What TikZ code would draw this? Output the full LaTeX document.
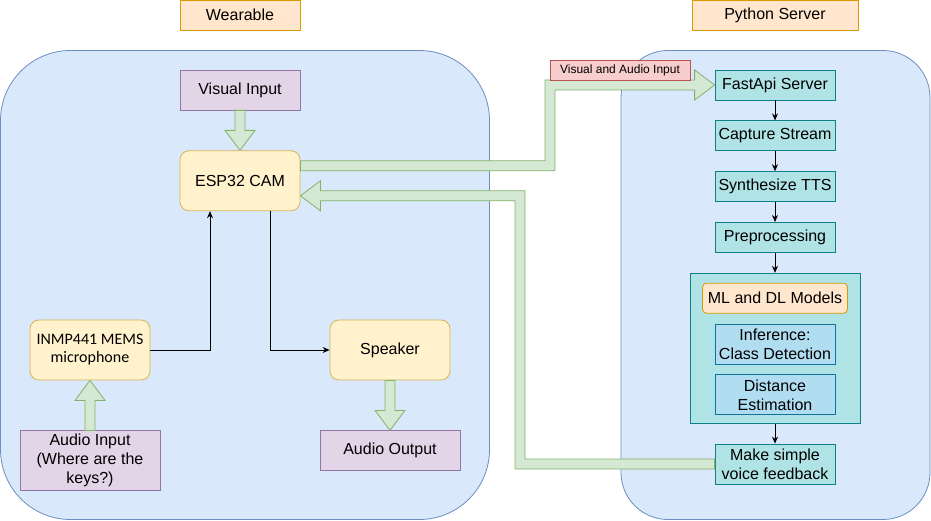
\documentclass[tikz,border=0pt]{standalone}
\usepackage{fontspec}
\setmainfont{Liberation Sans}
\newfontfamily\micfont{Carlito}
\usetikzlibrary{positioning,calc,arrows.meta}

\definecolor{bluefill}{HTML}{DAE8FC}
\definecolor{blueline}{HTML}{6C8EBF}
\definecolor{peachfill}{HTML}{FFE6CC}
\definecolor{peachline}{HTML}{D79B00}
\definecolor{purplefill}{HTML}{E1D5E7}
\definecolor{purpleline}{HTML}{9673A6}
\definecolor{yellowfill}{HTML}{FFF2CC}
\definecolor{yellowline}{HTML}{D6B656}
\definecolor{greenfill}{HTML}{D5E8D4}
\definecolor{greenline}{HTML}{82B366}
\definecolor{redfill}{HTML}{F8CECC}
\definecolor{redline}{HTML}{B85450}
\definecolor{tealfill}{HTML}{B0E3E6}
\definecolor{tealline}{HTML}{0E8088}
\definecolor{skyfill}{HTML}{B1DDF0}
\definecolor{skyline}{HTML}{10739E}

\begin{document}
\begin{tikzpicture}
  [x=1pt, y=-1pt, node distance=20pt, font=\fontsize{16}{19}\selectfont,
   box/.style={draw, line width=0.8pt, minimum width=120pt, minimum height=30pt, inner sep=1pt, align=center},
   title/.style={box, fill=peachfill, draw=peachline},
   container/.style={draw=blueline, fill=bluefill, line width=0.8pt},
   signal/.style={box, fill=purplefill, draw=purpleline, minimum width=140pt, minimum height=40pt},
   device/.style={box, fill=yellowfill, draw=yellowline, minimum height=60pt, rounded corners=9pt},
   stage/.style={box, fill=tealfill, draw=tealline},
   model/.style={box, fill=skyfill, draw=skyline, minimum height=40pt},
   flow/.style={draw=greenline, fill=greenfill, line width=0.8pt, line join=miter},
   link/.style={-{Stealth[length=7pt,width=6pt]}, line width=0.8pt}]
	\useasboundingbox (0,0) rectangle (931,521);

	\node [container, minimum width=489pt, minimum height=469pt, rounded corners=70pt] (wearbox) at (245,285) {};
	\node [container, minimum width=309pt, minimum height=469pt, rounded corners=47pt] (pybox) at (775.5,285) {};

	\node [title] (wear) at (240,15) {Wearable};
	\node [title, minimum width=166pt] (py) at (775,15) {Python Server};

	\node [signal, minimum width=120pt] (vis) at (240,90) {Visual Input};
	\node [device, below=40pt of vis] (esp) {ESP32 CAM};
	\node [device, font=\micfont\fontsize{16}{18}\selectfont] (mic) at (90,350) {INMP441 MEMS\\microphone};
	\node [signal, minimum height=60pt, below=50pt of mic] (ain) {Audio Input\\(Where are the\\keys?)};
	\node [device] (spk) at (390,350) {Speaker};
	\node [signal, below=50pt of spk] (aout) {Audio Output};

	\node [stage] (fast) at (775,85) {FastApi Server};
	\node [stage, below=of fast] (cap) {Capture Stream};
	\node [stage, below=of cap] (tts) {Synthesize TTS};
	\node [stage, below=of tts] (pre) {Preprocessing};
	\node [stage, minimum width=170pt, minimum height=150pt, below=of pre] (models) {};
	\node [box, fill=peachfill, draw=peachline, rounded corners=4pt, minimum width=145pt, below=10pt of models.north] (ml) {ML and DL Models};
	\node [model, below=10pt of ml] (inf) {Inference:\\Class Detection};
	\node [model, below=10pt of inf] (dist) {Distance\\Estimation};
	\node [stage, minimum height=40pt, below=of models] (fb) {Make simple\\voice feedback};

	\coordinate (upX) at (550,0);
	\coordinate (downX) at (520,0);

	\draw [flow] ($(vis.south)+(-5,0)$) -- ($(vis.south)+(5,0)$) -- ($(esp.north)+(5,-20)$) -- ($(esp.north)+(15,-20)$)
		-- (esp.north) -- ($(esp.north)+(-15,-20)$) -- ($(esp.north)+(-5,-20)$) -- cycle;
	\draw [flow] ($(ain.north)+(-5,0)$) -- ($(ain.north)+(5,0)$) -- ($(mic.south)+(5,20)$) -- ($(mic.south)+(15,20)$)
		-- (mic.south) -- ($(mic.south)+(-15,20)$) -- ($(mic.south)+(-5,20)$) -- cycle;
	\draw [flow] ($(spk.south)+(-5,0)$) -- ($(spk.south)+(5,0)$) -- ($(aout.north)+(5,-20)$) -- ($(aout.north)+(15,-20)$)
		-- (aout.north) -- ($(aout.north)+(-15,-20)$) -- ($(aout.north)+(-5,-20)$) -- cycle;

	\draw [flow] ($(esp.east)+(0,-20)$) -- ($(upX |- esp.east)+(-5,-20)$) -- ($(upX |- fast.west)+(-5,-5)$)
		-- ($(fast.west)+(-20,-5)$) -- ($(fast.west)+(-20,-15)$) -- (fast.west) -- ($(fast.west)+(-20,15)$)
		-- ($(fast.west)+(-20,5)$) -- ($(upX |- fast.west)+(5,5)$) -- ($(upX |- esp.east)+(5,-10)$)
		-- ($(esp.east)+(0,-10)$) -- cycle;
	\draw [flow] ($(fb.west)+(0,-5)$) -- ($(downX |- fb.west)+(5,-5)$) -- ($(downX |- esp.east)+(5,10)$)
		-- ($(esp.east)+(20,10)$) -- ($(esp.east)+(20,0)$) -- ($(esp.east)+(0,15)$) -- ($(esp.east)+(20,30)$)
		-- ($(esp.east)+(20,20)$) -- ($(downX |- esp.east)+(-5,20)$) -- ($(downX |- fb.west)+(-5,5)$)
		-- ($(fb.west)+(0,5)$) -- cycle;

	\node [box, fill=redfill, draw=redline, minimum width=140pt, minimum height=20pt, inner sep=1pt,
		font=\fontsize{12}{13}\selectfont] (tag) at (620,70) {Visual and Audio Input};

	\draw [link] (mic.east) -| ($(esp.south)+(-30,0)$);
	\draw [link] ($(esp.south)+(30,0)$) |- (spk.west);
	\draw [link] (fast) -- (cap);
	\draw [link] (cap) -- (tts);
	\draw [link] (tts) -- (pre);
	\draw [link] (pre) -- (models);
	\draw [link] (models) -- (fb);
\end{tikzpicture}
\end{document}
